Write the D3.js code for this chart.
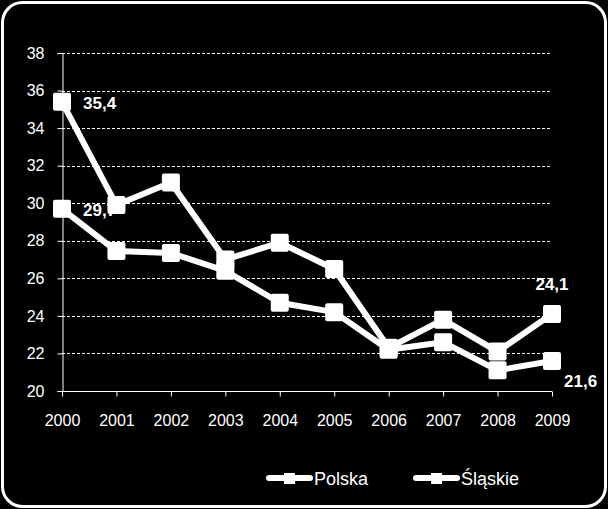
<!DOCTYPE html>
<html><head><meta charset="utf-8">
<script src="https://cdn.jsdelivr.net/npm/d3@7"></script>
<style>html,body{margin:0;padding:0;background:#000;}svg{display:block;}</style>
</head><body>
<svg id="chart" width="608" height="509"></svg>
<script>
const years = ["2000","2001","2002","2003","2004","2005","2006","2007","2008","2009"];
const polska = [35.4, 29.9, 31.1, 27.0, 27.9, 26.5, 22.3, 23.8, 22.1, 24.1];
const slaskie = [29.7, 27.45, 27.35, 26.4, 24.7, 24.2, 22.2, 22.6, 21.1, 21.6];
const seriesNames = ["Polska", "Śląskie"];
const yTicks = [20, 22, 24, 26, 28, 30, 32, 34, 36, 38];

const svg = d3.select("#chart");
const font = "'Liberation Sans', Arial, sans-serif";

svg.append("rect").attr("x", 0).attr("y", 0).attr("width", 608).attr("height", 509).attr("fill", "#000");
svg.append("rect").attr("x", 2.5).attr("y", 2.5).attr("width", 603).attr("height", 504)
  .attr("rx", 20).attr("ry", 20).attr("fill", "#000").attr("stroke", "#fff").attr("stroke-width", 3);

const x = d3.scalePoint().domain(years).range([62, 552]);
const y = d3.scaleLinear().domain([20, 38]).range([391, 53]);

// gridlines
svg.append("g").selectAll("line").data(yTicks.filter(d => d > 20)).join("line")
  .attr("x1", 62).attr("x2", 552).attr("y1", d => Math.round(y(d)) + 0.5).attr("y2", d => Math.round(y(d)) + 0.5)
  .attr("stroke", "#fff").attr("stroke-width", 1).attr("stroke-dasharray", "3,2");

// y axis
const yAxis = svg.append("g").attr("transform", "translate(62.5,0)")
  .call(d3.axisLeft(y).tickValues(yTicks).tickSize(5).tickPadding(13).tickFormat(d3.format("d")));
yAxis.selectAll("path,line").attr("stroke", "#fff");
yAxis.selectAll("text").attr("fill", "#fff").attr("font-family", font).attr("font-size", 16);

// x axis
const xAxis = svg.append("g").attr("transform", "translate(0,391.5)")
  .call(d3.axisBottom(x).tickSize(5).tickSizeOuter(0).tickPadding(18));
xAxis.selectAll("path,line").attr("stroke", "#fff");
xAxis.select(".domain").attr("d", "M62,0H552");
xAxis.selectAll("text").attr("fill", "#fff").attr("font-family", font).attr("font-size", 16);

// data labels (under series)
const fmt = v => d3.format(".1f")(v).replace(".", ",");
const labels = svg.append("g").attr("font-family", font).attr("font-weight", "bold").attr("font-size", 17).attr("fill", "#fff");
const n = years.length - 1;
labels.append("text").attr("x", x(years[0]) + 21).attr("y", y(polska[0]) + 7).text(fmt(polska[0]));
labels.append("text").attr("x", x(years[0]) + 21).attr("y", y(slaskie[0]) + 7).text(fmt(slaskie[0]));
labels.append("text").attr("x", x(years[n])).attr("y", y(polska[n]) - 24).attr("text-anchor", "middle").text(fmt(polska[n]));
labels.append("text").attr("x", x(years[n]) + 12).attr("y", y(slaskie[n]) + 26).text(fmt(slaskie[n]));

const line = d3.line().x((d, i) => x(years[i])).y(d => y(d));
[polska, slaskie].forEach(s => {
  svg.append("path").datum(s).attr("d", line).attr("fill", "none").attr("stroke", "#fff")
    .attr("stroke-width", 6).attr("stroke-linejoin", "round");
});
[polska, slaskie].forEach(s => {
  svg.append("g").selectAll("rect").data(s).join("rect")
    .attr("x", (d, i) => x(years[i]) - 9).attr("y", d => y(d) - 9)
    .attr("width", 18).attr("height", 18).attr("rx", 2).attr("fill", "#fff");
});

// legend
const legendX = [267, 414];
seriesNames.forEach((name, i) => {
  const g = svg.append("g").attr("transform", `translate(${legendX[i]},478)`);
  g.append("line").attr("x1", 2).attr("x2", 43).attr("y1", 0).attr("y2", 0)
    .attr("stroke", "#fff").attr("stroke-width", 6).attr("stroke-linecap", "round");
  g.append("rect").attr("x", 17).attr("y", -5).attr("width", 11).attr("height", 11).attr("fill", "#fff");
  g.append("text").attr("x", 47).attr("y", 7).attr("fill", "#fff").attr("font-family", font).attr("font-size", 18).text(name);
});
</script>
</body></html>
